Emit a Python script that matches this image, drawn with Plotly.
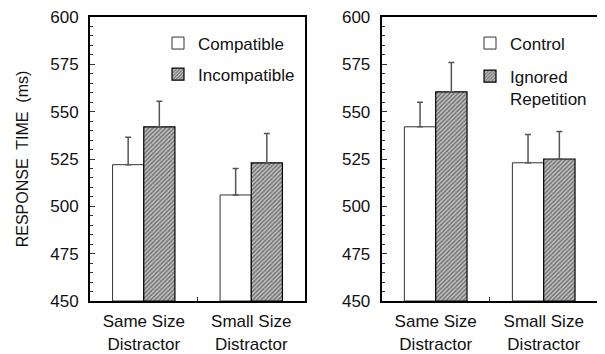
import plotly.graph_objects as go

categories = ["Same Size<br>Distractor", "Small Size<br>Distractor"]

# Left panel
compatible = [522, 506]
compatible_err = [14.5, 14]
incompatible = [542, 523]
incompatible_err = [13.5, 15.5]

# Right panel
control = [542, 523]
control_err = [13, 15]
ignored = [560.5, 525]
ignored_err = [15.5, 14.5]

y_ticks = [450, 475, 500, 525, 550, 575, 600]

FONT = "Liberation Sans, Arial, sans-serif"
TXT = "#111111"
hatch = dict(shape="/", size=3, solidity=0.55, fgcolor="#222222", bgcolor="#c8c8c8")
err_style = dict(type="data", symmetric=False, color="#555555", thickness=1.5, width=3)

fig = go.Figure()

def add_pair(xa, ya, leg, n1, v1, e1, n2, v2, e2):
    fig.add_trace(go.Bar(
        x=categories, y=[v - 450 for v in v1], base=450, name=n1,
        xaxis=xa, yaxis=ya, legend=leg, legendgroup=n1,
        marker=dict(color="white", line=dict(color="#333333", width=1)),
        error_y=dict(array=e1, arrayminus=[0] * len(e1), **err_style),
    ))
    fig.add_trace(go.Bar(
        x=categories, y=[v - 450 for v in v2], base=450, name=n2,
        xaxis=xa, yaxis=ya, legend=leg, legendgroup=n2,
        marker=dict(color="white", pattern=hatch, line=dict(color="black", width=1.2)),
        error_y=dict(array=e2, arrayminus=[0] * len(e2), **err_style),
    ))

add_pair("x", "y", "legend", "Compatible", compatible, compatible_err,
         "Incompatible", incompatible, incompatible_err)
add_pair("x2", "y2", "legend2", "Control", control, control_err,
         "Ignored<br>Repetition", ignored, ignored_err)

# page has an 8px body margin; figure is sized to fill the rest of the window
W, H = 597, 346
yax = dict(range=[450, 600], tickvals=y_ticks, ticks="inside", ticklen=5, tickwidth=1,
           tickcolor="#333", showgrid=False, zeroline=False,
           showline=True, linecolor="black", linewidth=2, mirror=True,
           tickfont=dict(size=17, color=TXT, family=FONT), ticklabelstandoff=6,
           ticklabeloverflow="allow",
           minor=dict(dtick=5, ticks="inside", ticklen=3, tickcolor="#333", tickwidth=1))
xax = dict(type="category", range=[-0.5, 1.5], tickson="boundaries", ticks="inside",
           ticklen=4, tickcolor="#333", showgrid=False, zeroline=False,
           showline=True, linecolor="black", linewidth=2, mirror=True,
           ticklabelstandoff=4,
           tickfont=dict(size=17, color=TXT, family=FONT))

leg = dict(font=dict(size=17, color=TXT, family=FONT), bgcolor="rgba(0,0,0,0)",
           xanchor="left", yanchor="top", itemwidth=30,
           itemclick=False, itemdoubleclick=False)

fig.update_layout(
    width=W, height=H,
    margin=dict(l=0, r=0, t=7, b=50),
    paper_bgcolor="white", plot_bgcolor="white",
    barmode="group", bargap=0.42, bargroupgap=0,
    font=dict(family=FONT, size=17, color=TXT),
    xaxis=dict(domain=[82 / W, 297 / W], anchor="y", **xax),
    yaxis=dict(domain=[0, 1], anchor="x",
               title=dict(text="RESPONSE  TIME  (ms)", standoff=18,
                          font=dict(size=16, family=FONT, color=TXT)),
               **yax),
    xaxis2=dict(domain=[373.7 / W, 589.7 / W], anchor="y2", **xax),
    yaxis2=dict(domain=[0, 1], anchor="x2", **yax),
    legend=dict(x=150 / W, y=0.97, tracegroupgap=6, **leg),
    legend2=dict(x=462 / W, y=0.97, valign="top", tracegroupgap=8, **leg),
    showlegend=True,
)

fig.write_html("out.html")
